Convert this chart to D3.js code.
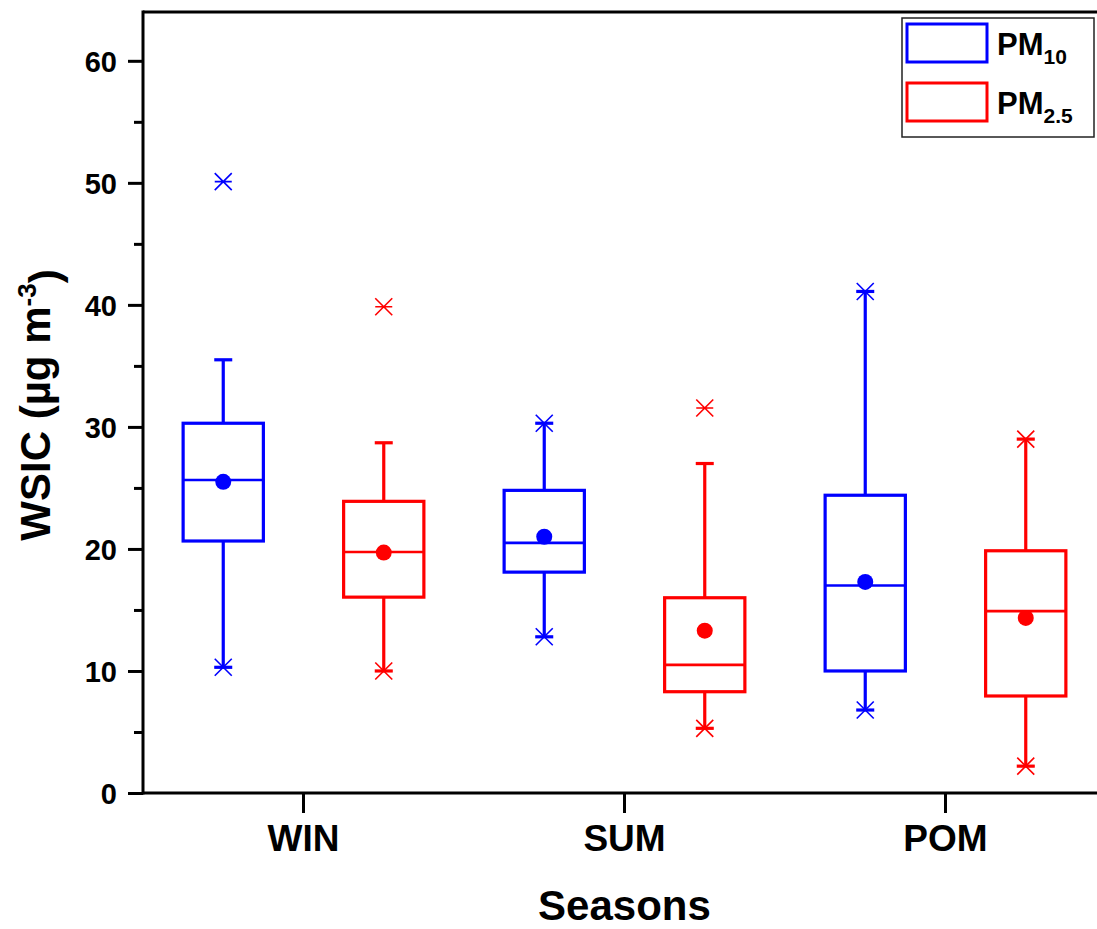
<!DOCTYPE html>
<html>
<head>
<meta charset="utf-8">
<script src="https://cdn.jsdelivr.net/npm/d3@7"></script>
<style>
  body { margin: 0; background: #fff; }
  text { font-family: Arial, "Liberation Sans", sans-serif; font-weight: bold; fill: #000; }
</style>
</head>
<body>
<div id="chart"></div>
<script>
// season categories
const seasons = ["WIN", "SUM", "POM"];
const seriesNames = ["PM10", "PM2.5"];

// PM10 box stats per season
const pm10Q1 = [20.65, 18.1, 10.0];
const pm10Median = [25.65, 20.5, 17.0];
const pm10Q3 = [30.3, 24.8, 24.4];
const pm10WhiskLo = [10.3, 12.8, 6.8];
const pm10WhiskHi = [35.5, 30.3, 41.1];
const pm10Mean = [25.5, 21.0, 17.3];
const pm10Min = [10.3, 12.8, 6.8];
const pm10Max = [50.1, 30.3, 41.1];

// PM2.5 box stats per season
const pm25Q1 = [16.05, 8.3, 7.95];
const pm25Median = [19.75, 10.5, 14.9];
const pm25Q3 = [23.9, 16.0, 19.85];
const pm25WhiskLo = [10.0, 5.3, 2.2];
const pm25WhiskHi = [28.7, 27.0, 29.0];
const pm25Mean = [19.7, 13.3, 14.35];
const pm25Min = [10.0, 5.3, 2.2];
const pm25Max = [39.85, 31.55, 29.0];

const yMajorTicks = [0, 10, 20, 30, 40, 50, 60];

const width = 1097, height = 929;
const margin = { top: 12, left: 143, bottom: 136 };
const colors = { "PM10": "#0000ff", "PM2.5": "#ff0000" };

function buildRows(name, q1, med, q3, wlo, whi, mean, mn, mx) {
    return seasons.map((s, i) => ({
        season: s, series: name,
        q1: q1[i], median: med[i], q3: q3[i],
        wlo: wlo[i], whi: whi[i], mean: mean[i], min: mn[i], max: mx[i]
    }));
}

const rows = buildRows("PM10", pm10Q1, pm10Median, pm10Q3, pm10WhiskLo, pm10WhiskHi, pm10Mean, pm10Min, pm10Max)
    .concat(buildRows("PM2.5", pm25Q1, pm25Median, pm25Q3, pm25WhiskLo, pm25WhiskHi, pm25Mean, pm25Min, pm25Max));

const svg = d3.select("#chart").append("svg")
    .attr("width", width)
    .attr("height", height);

svg.append("rect").attr("width", width).attr("height", height).attr("fill", "#fff");

const x = d3.scaleBand()
    .domain(seasons)
    .range([margin.left, margin.left + 3 * 321])
    .padding(0);

const xSub = d3.scaleBand()
    .domain(seriesNames)
    .range([0, x.bandwidth()])
    .padding(0);

const y = d3.scaleLinear()
    .domain([0, 64])
    .range([height - margin.bottom, margin.top]);

const boxW = xSub.bandwidth() / 2;
const capW = 18;
const starR = 8.5;

const cx = d => x(d.season) + xSub(d.series) + xSub.bandwidth() / 2;

const boxes = svg.append("g").selectAll("g")
    .data(rows)
    .enter().append("g")
    .attr("stroke", d => colors[d.series])
    .attr("fill", "none");

// whiskers
boxes.append("line")
    .attr("x1", cx).attr("x2", cx)
    .attr("y1", d => y(d.q3)).attr("y2", d => y(d.whi))
    .attr("stroke-width", 3.2);
boxes.append("line")
    .attr("x1", cx).attr("x2", cx)
    .attr("y1", d => y(d.q1)).attr("y2", d => y(d.wlo))
    .attr("stroke-width", 3.2);

// whisker caps
["whi", "wlo"].forEach(k => {
    boxes.append("line")
        .attr("x1", d => cx(d) - capW / 2).attr("x2", d => cx(d) + capW / 2)
        .attr("y1", d => y(d[k])).attr("y2", d => y(d[k]))
        .attr("stroke-width", 3.2);
});

// box
boxes.append("rect")
    .attr("x", d => cx(d) - boxW / 2)
    .attr("width", boxW)
    .attr("y", d => y(d.q3))
    .attr("height", d => y(d.q1) - y(d.q3))
    .attr("stroke-width", 3.2);

// median
boxes.append("line")
    .attr("x1", d => cx(d) - boxW / 2).attr("x2", d => cx(d) + boxW / 2)
    .attr("y1", d => y(d.median)).attr("y2", d => y(d.median))
    .attr("stroke-width", 2.6);

// mean dot
boxes.append("circle")
    .attr("cx", cx)
    .attr("cy", d => y(d.mean))
    .attr("r", 8)
    .attr("stroke", "none")
    .attr("fill", d => colors[d.series]);

// min / max star markers
["min", "max"].forEach(k => {
    boxes.append("path")
        .attr("stroke-width", 1.6)
        .attr("d", d => {
            const px = cx(d), py = y(d[k]);
            return `M${px - starR},${py - starR}L${px + starR},${py + starR}` +
                   `M${px - starR},${py + starR}L${px + starR},${py - starR}` +
                   `M${px - starR},${py}L${px + starR},${py}`;
        });
});

// axes frame
const x0 = margin.left, yb = height - margin.bottom;
svg.append("line").attr("x1", x0).attr("x2", width).attr("y1", yb).attr("y2", yb)
    .attr("stroke", "#000").attr("stroke-width", 3);
svg.append("line").attr("x1", x0).attr("x2", width).attr("y1", margin.top).attr("y2", margin.top)
    .attr("stroke", "#000").attr("stroke-width", 3);

// y axis
const yAxis = svg.append("g")
    .attr("transform", `translate(${x0},0)`)
    .call(d3.axisLeft(y).tickValues(yMajorTicks).tickSize(15).tickPadding(11).tickSizeOuter(0))
    .call(g => g.select(".domain").attr("d", `M0,${yb + 1.5}V${margin.top - 1.5}`).attr("stroke-width", 3));
yAxis.selectAll(".tick line").attr("stroke-width", 3);
yAxis.selectAll(".tick text").style("font-size", "29px").attr("dy", "0.36em");

svg.append("g")
    .attr("transform", `translate(${x0},0)`)
    .call(d3.axisLeft(y).tickValues(d3.range(5, 64, 10)).tickSize(9).tickFormat(""))
    .call(g => g.select(".domain").remove())
    .selectAll(".tick line").attr("stroke-width", 3);

// x axis
const xAxis = svg.append("g")
    .attr("transform", `translate(0,${yb})`)
    .call(d3.axisBottom(x).tickSize(20).tickPadding(12).tickSizeOuter(0))
    .call(g => g.select(".domain").remove());
xAxis.selectAll(".tick line").attr("stroke-width", 3);
xAxis.selectAll(".tick text").style("font-size", "37px").attr("dy", "0.71em");

// axis titles
svg.append("text")
    .attr("x", (x(seasons[1]) + x.bandwidth() / 2))
    .attr("y", 920)
    .attr("text-anchor", "middle")
    .style("font-size", "42px")
    .text("Seasons");

const yTitle = svg.append("text")
    .attr("transform", "translate(50,405) rotate(-90)")
    .attr("text-anchor", "middle")
    .style("font-size", "42px");
yTitle.append("tspan").text("WSIC (µg m");
yTitle.append("tspan").attr("dy", "-0.55em").style("font-size", "26px").text("-3");
yTitle.append("tspan").attr("dy", "0.55em").text(")");

// legend
const legend = svg.append("g");
legend.append("rect")
    .attr("x", 902).attr("y", 18).attr("width", 192).attr("height", 119)
    .attr("fill", "#fff").attr("stroke", "#222").attr("stroke-width", 1.5);

const legendSubs = ["10", "2.5"];
seriesNames.forEach((s, i) => {
    const gy = 24 + i * 59;
    legend.append("rect")
        .attr("x", 907).attr("y", gy).attr("width", 80).attr("height", 38)
        .attr("fill", "none").attr("stroke", colors[s]).attr("stroke-width", 3);
    const t = legend.append("text")
        .attr("x", 997).attr("y", gy + 31)
        .style("font-size", "31px");
    t.append("tspan").text("PM");
    t.append("tspan").attr("dy", "0.45em").style("font-size", "21px").text(legendSubs[i]);
});
</script>
</body>
</html>
